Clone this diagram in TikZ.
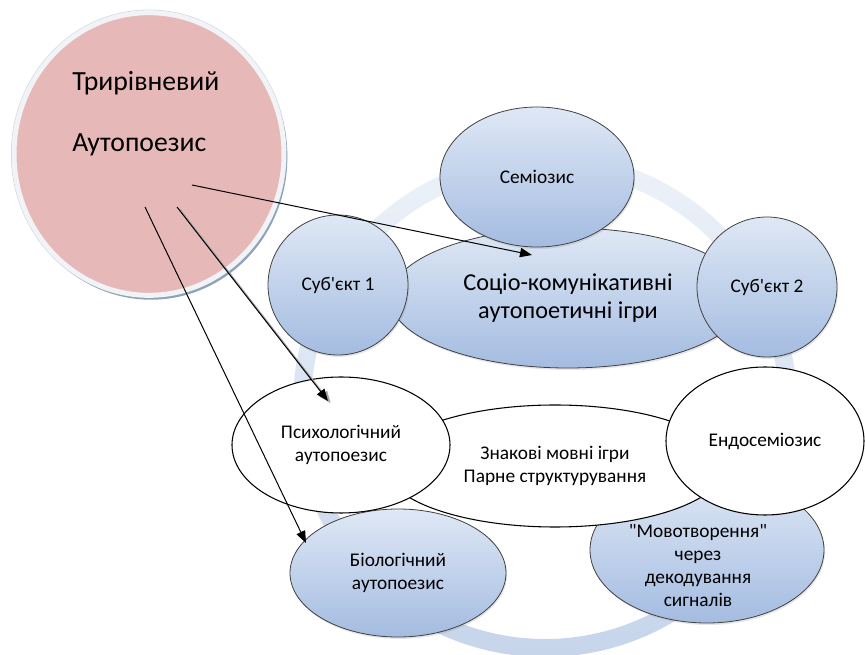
\documentclass[tikz,border=0pt]{standalone}
\usepackage{fontspec}
\setmainfont{Carlito}[Ligatures=TeXOff]
\usetikzlibrary{shapes.geometric, arrows.meta, shadows, calc}
\definecolor{balltop}{HTML}{DFE8F5}
\definecolor{ballbottom}{HTML}{A4BCE1}
\definecolor{ringtop}{HTML}{EDF2F9}
\definecolor{ringbottom}{HTML}{C6D5EB}
\definecolor{rosefill}{HTML}{E6B9B8}
\definecolor{roseedge}{HTML}{F1F3F6}
\definecolor{roseshadow}{HTML}{8FA2B8}

\begin{document}
\begin{tikzpicture}[x=0.75pt, y=-0.75pt]
  % Define styles
  \tikzstyle{blueball} = [ellipse, inner sep=0pt, align=center, draw=black!75, line width=0.6pt, top color=balltop, bottom color=ballbottom, drop shadow={opacity=0.2, shadow xshift=0.8pt, shadow yshift=-1.5pt}, font=\fontsize{14.5}{17.25}\selectfont]
  \tikzstyle{whiteball} = [ellipse, inner sep=0pt, align=center, draw=black, line width=0.8pt, fill=white, font=\fontsize{14.5}{17.25}\selectfont]
  \tikzstyle{roseball} = [ellipse, inner sep=0pt, draw=roseedge, line width=3.75pt, fill=rosefill, preaction={draw=roseshadow!45, line width=4.6pt}, drop shadow={opacity=1, fill=roseshadow, shadow scale=1.01, shadow xshift=1.5pt, shadow yshift=-2.2pt}]
  \tikzstyle{bigtext} = [inner sep=0pt, anchor=base west, font=\fontsize{20.8}{24}\selectfont]
  \tikzstyle{arrow} = [line width=0.75pt, -{Triangle[length=9pt, width=7pt]}]

  \useasboundingbox (0,0) rectangle (865,655);

  % Ring behind the circles
  \coordinate (ringc) at (545,405);
  \path[even odd rule, top color=ringtop, bottom color=ringbottom] (ringc) circle[radius=189pt] circle[radius=175.5pt];

  % Place nodes
  \node[blueball, minimum width=267pt, minimum height=105pt, font=\fontsize{18.2}{21}\selectfont] (socio) at (568,298) {Соціо-комунікативні\\аутопоетичні ігри};
  \node[blueball, minimum width=145.5pt, minimum height=105pt] (semiozys) at (537,177) {Семіозис};
  \node[blueball, minimum size=105pt] (subject1) at (338,285) {Суб'єкт 1};
  \node[blueball, minimum size=105pt] (subject2) at (767,287) {Суб'єкт 2};
  \node[blueball, minimum width=162pt, minimum height=96pt] (bio) at (398,573) {Біологічний\\аутопоезис};
  \node[blueball, minimum width=175.5pt, minimum height=109.5pt] (movotvor) at (707,550) {};
  \node[whiteball, minimum width=255pt, minimum height=91.5pt] (znakovi) at (555,466) {Знакові мовні ігри\\Парне структурування};
  \node[whiteball, minimum width=163.5pt, minimum height=102pt] (psycho) at (341,445) {Психологічний\\аутопоезис};
  \node[whiteball, minimum width=148.5pt, minimum height=111pt] (endosemio) at (765,441) {Ендосеміозис};
  \node[align=center, font=\fontsize{14.5}{17.25}\selectfont] (movtext) at (698,566) {"Мовотворення"\\через\\декодування\\сигналів};

  \node[roseball, minimum width=202.5pt, minimum height=212pt] (tri) at (149,154) {};
  \node[bigtext] (trione) at (72,91) {Трирівневий};
  \node[bigtext] (tritwo) at (72,152) {Аутопоезис};

  % Draw edges
  \draw[arrow] ($(tri.center)+(43,31)$) -- ($(socio.center)+(-36,-43)$);
  \draw[arrow, line width=1.1pt, black!35, transform canvas={shift={(2pt,-1.6pt)}}] ($(tri.center)+(28,53)$) -- ($(psycho.center)+(-13,-44)$);
  \draw[arrow] ($(tri.center)+(28,53)$) -- ($(psycho.center)+(-13,-44)$);
  \draw[arrow] ($(tri.center)+(-4,53)$) -- ($(bio.center)+(-92,-30)$);

\end{tikzpicture}
\end{document}
